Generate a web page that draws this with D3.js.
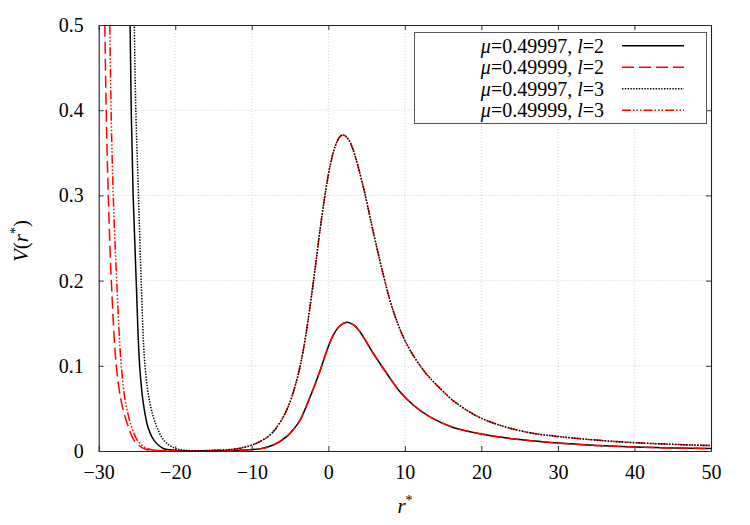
<!DOCTYPE html>
<html>
<head>
<meta charset="utf-8">
<script src="https://cdn.jsdelivr.net/npm/d3@7"></script>
<style>
  body { margin: 0; background: #fff; }
  text { font-family: "Liberation Serif", "Times New Roman", Times, Tinos, "DejaVu Serif", "Noto Serif", serif; }
</style>
</head>
<body>
<svg id="chart"></svg>
<script>
// values, [r*, V]
const wallMu7L2 = [[-26.1, 0.6], [-25.9, 0.5], [-25.75, 0.4], [-25.5, 0.3], [-25.1, 0.2], [-24.65, 0.1],
    [-24.17, 0.056], [-23.52, 0.0266], [-22.65, 0.011], [-21.56, 0.003], [-20, 0.001], [-18, 0.0003]];
const wallMu9L2 = [[-29.35, 0.6], [-29.2, 0.5], [-29.02, 0.4], [-28.75, 0.3], [-28.35, 0.2], [-27.7, 0.1],
    [-27.0, 0.056], [-26.13, 0.0285], [-25.26, 0.011], [-23.95, 0.0023], [-21.8, 0.0004], [-18, 0.0001]];
const wallMu7L3 = [[-25.5, 0.6], [-25.35, 0.5], [-25.15, 0.4], [-24.8, 0.3], [-24.45, 0.2], [-23.95, 0.1],
    [-23.3, 0.056], [-22.42, 0.0285], [-21.34, 0.011], [-20, 0.003], [-18.7, 0.0008]];
const wallMu9L3 = [[-28.7, 0.6], [-28.55, 0.5], [-28.38, 0.4], [-28.1, 0.3], [-27.65, 0.2], [-27.05, 0.1],
    [-26.47, 0.056], [-25.7, 0.0285], [-24.83, 0.011], [-23.5, 0.0023], [-21.3, 0.0004], [-18, 0.0002]];

// right of the wall both mu values give the same curve
const barrierL2 = [[-15, 0.0003], [-11.5, 0.001], [-8.93, 0.0025], [-7.19, 0.007], [-5.44, 0.0168],
    [-4.5, 0.026], [-3.7, 0.036], [-2.4, 0.063], [-1.09, 0.094], [-0.22, 0.117], [0.65, 0.136],
    [1.52, 0.147], [2.4, 0.151], [3.3, 0.148], [4.13, 0.14], [5.87, 0.1147], [7.62, 0.0912],
    [9.36, 0.0696], [11.1, 0.054], [13.28, 0.04], [16.32, 0.0276], [20, 0.0199], [22.42, 0.0164],
    [25, 0.0134], [30, 0.0093], [35, 0.0066], [40, 0.0047], [45, 0.0036], [50, 0.0028]];
const barrierL3 = [[-15, 0.0008], [-11.54, 0.0032], [-8.93, 0.011], [-7.19, 0.0227], [-5.44, 0.048],
    [-4.13, 0.083], [-3.27, 0.1185], [-2.4, 0.169], [-1.74, 0.213], [-1.09, 0.259], [-0.44, 0.3],
    [0.22, 0.334], [0.87, 0.357], [1.52, 0.369], [1.96, 0.371], [2.6, 0.366], [3.26, 0.353],
    [4.57, 0.31], [5.44, 0.275], [6.1, 0.248], [7.18, 0.207], [8.05, 0.177], [8.93, 0.153],
    [10.1, 0.128], [11.54, 0.106], [12.85, 0.09], [14.15, 0.0775], [16.32, 0.059], [18.5, 0.0456],
    [20, 0.0384], [22.5, 0.03], [26.35, 0.0214], [30, 0.0171], [35, 0.0128], [40, 0.0098],
    [45, 0.0078], [50, 0.0063]];

const seriesNames = ['0.49997|2', '0.49999|2', '0.49997|3', '0.49999|3'];
const seriesData = [
    wallMu7L2.concat(barrierL2),
    wallMu9L2.concat(barrierL2),
    wallMu7L3.concat(barrierL3),
    wallMu9L3.concat(barrierL3)
];
const xTicks = [-30, -20, -10, 0, 10, 20, 30, 40, 50];
const yTicks = [0, 0.1, 0.2, 0.3, 0.4, 0.5];

const styles = [
    { color: '#000', dash: null },
    { color: '#f00', dash: '12,5' },
    { color: '#000', dash: '1.4,1.4' },
    { color: '#f00', dash: '9,2,1.5,2,1.5,2,1.5,2' }
];
// red dash-dot-dot goes under the black dots, as in the picture
const drawOrder = [0, 1, 3, 2];

const width = 750;
const height = 525;
const marginTop = 25;
const marginRight = 39;
const marginBottom = 74;
const marginLeft = 98.7;
const serif = '"Liberation Serif", "Times New Roman", Times, Tinos, "DejaVu Serif", "Noto Serif", serif';

const x = d3.scaleLinear().domain([-30, 50]).range([marginLeft, width - marginRight]);
const y = d3.scaleLinear().domain([0, 0.5]).range([height - marginBottom, marginTop]);

const svg = d3.select('#chart').attr('width', width).attr('height', height)
    .style('font-family', serif);

svg.append('defs').append('clipPath').attr('id', 'plot')
    .append('rect')
    .attr('x', marginLeft).attr('y', marginTop)
    .attr('width', x(50) - x(-30)).attr('height', y(0) - y(0.5));

// grid
const grid = svg.append('g').attr('stroke', '#c8c8c8').attr('stroke-width', 0.8).attr('stroke-dasharray', '1,2');
grid.selectAll('.gx').data(xTicks.slice(1, -1)).join('line')
    .attr('x1', (d) => x(d)).attr('x2', (d) => x(d))
    .attr('y1', y(0)).attr('y2', y(0.5));
grid.selectAll('.gy').data(yTicks.slice(1, -1)).join('line')
    .attr('y1', (d) => y(d)).attr('y2', (d) => y(d))
    .attr('x1', x(-30)).attr('x2', x(50));

// curves
const line = d3.line()
    .x((d) => x(d[0]))
    .y((d) => y(d[1]))
    .curve(d3.curveCatmullRom.alpha(0.5));

svg.append('g').attr('clip-path', 'url(#plot)')
    .selectAll('path').data(drawOrder).join('path')
    .attr('fill', 'none')
    .attr('stroke', (i) => styles[i].color)
    .attr('stroke-width', 1.5)
    .attr('stroke-dasharray', (i) => styles[i].dash)
    .attr('d', (i) => line(seriesData[i]));

// axes with inward ticks on all four sides
const fmtY = (d) => (d === 0 ? '0' : d3.format('.1f')(d));
const axes = [
    svg.append('g').attr('transform', `translate(0,${y(0)})`)
        .call(d3.axisBottom(x).tickValues(xTicks).tickSizeInner(-5).tickSizeOuter(0).tickPadding(14)),
    svg.append('g').attr('transform', `translate(0,${y(0.5)})`)
        .call(d3.axisTop(x).tickValues(xTicks).tickSizeInner(-5).tickSizeOuter(0).tickFormat('')),
    svg.append('g').attr('transform', `translate(${x(-30)},0)`)
        .call(d3.axisLeft(y).tickValues(yTicks).tickSizeInner(-5).tickSizeOuter(0).tickPadding(15).tickFormat(fmtY)),
    svg.append('g').attr('transform', `translate(${x(50)},0)`)
        .call(d3.axisRight(y).tickValues(yTicks).tickSizeInner(-5).tickSizeOuter(0).tickFormat(''))
];
axes.forEach((g) => {
    g.attr('font-family', null).attr('font-size', null);
    g.select('.domain').attr('stroke', '#222').attr('stroke-width', 1.1);
    g.selectAll('.tick line').attr('stroke', '#333');
    g.selectAll('.tick text').attr('fill', '#000')
        .style('font-family', serif).style('font-size', '20px');
});

// axis titles
const xt = svg.append('text').attr('x', 405).attr('y', 513)
    .attr('text-anchor', 'middle').style('font-size', '21px');
xt.append('tspan').attr('font-style', 'italic').text('r');
xt.append('tspan').style('font-size', '14px').attr('dy', -8).text('*');

const yt = svg.append('text').attr('transform', 'translate(28,241) rotate(-90)')
    .attr('text-anchor', 'middle').style('font-size', '21px');
yt.append('tspan').attr('font-style', 'italic').text('V');
yt.append('tspan').text('(');
yt.append('tspan').attr('font-style', 'italic').text('r');
yt.append('tspan').style('font-size', '14px').attr('dy', -8).text('*');
yt.append('tspan').attr('dy', 8).text(')');

// legend
const legend = svg.append('g');
legend.append('rect')
    .attr('x', 414.5).attr('y', 32.5).attr('width', 292).attr('height', 91)
    .attr('fill', '#fff').attr('stroke', '#555').attr('stroke-width', 1);

seriesNames.forEach((name, i) => {
    const [mu, l] = name.split('|');
    const cy = 45.7 + i * 21.5;
    const t = legend.append('text').attr('x', 604).attr('y', cy + 7)
        .attr('text-anchor', 'end').style('font-size', '20px');
    t.append('tspan').attr('font-style', 'italic').text('μ');
    t.append('tspan').text(`=${mu}, `);
    t.append('tspan').attr('font-style', 'italic').text('l');
    t.append('tspan').text(`=${l}`);
    legend.append('line')
        .attr('x1', 622).attr('x2', 684).attr('y1', cy).attr('y2', cy)
        .attr('stroke', styles[i].color).attr('stroke-width', 1.5)
        .attr('stroke-dasharray', styles[i].dash);
});
</script>
</body>
</html>
